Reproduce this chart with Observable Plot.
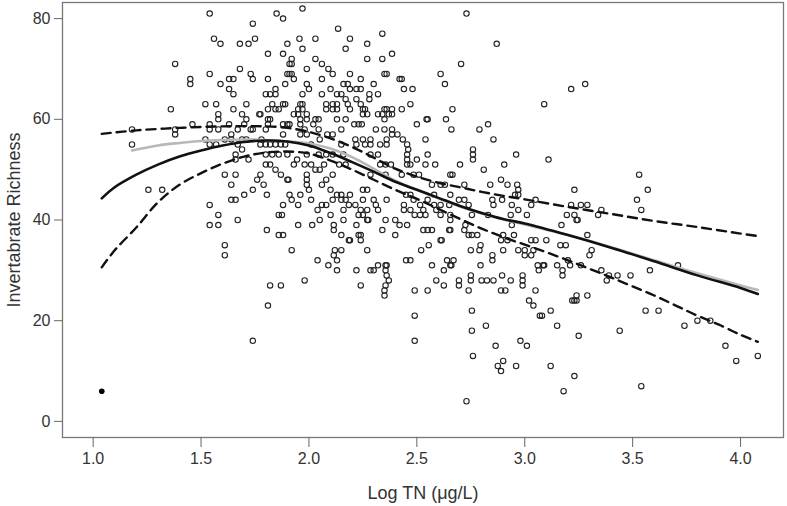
<!DOCTYPE html>
<html><head><meta charset="utf-8">
<script src="https://cdn.jsdelivr.net/npm/d3@7"></script>
<script src="https://cdn.jsdelivr.net/npm/@observablehq/plot@0.6"></script>
<style>body{margin:0;background:#fff}</style>
</head><body><div id="chart"></div>
<script>
const xTicks = [1.0, 1.5, 2.0, 2.5, 3.0, 3.5, 4.0];
const yTicks = [0, 20, 40, 60, 80];
const xTitle = "Log TN (μg/L)";
const yTitle = "Invertabrate Richness";

// [Log TN, richness] for each site (open circles)
const sites = [
[1.54,81],[1.74,79],[1.56,76],[1.59,75],[1.68,75],[1.72,75],[1.75,76],[1.38,71],[1.54,69],[1.68,70],[1.73,69],[1.74,68],[1.45,68],[1.45,67],[1.59,67],[1.63,68],[1.65,68],[1.63,66],[1.65,65],[1.36,62],[1.52,63],[1.57,63],[1.71,63],[1.65,62],[1.58,61],[1.58,60],[1.69,61],[1.77,61],[1.71,60],[1.18,58],[1.38,58],[1.38,57],[1.46,59],[1.54,58],[1.54,59],[1.58,58],[1.63,59],[1.67,58],[1.70,59],[1.73,58],[1.74,58],[1.18,55],[1.52,56],[1.54,55],[1.57,55],[1.61,56],[1.64,57],[1.64,56],[1.69,56],[1.67,55],[1.71,56],[1.78,56],
[1.97,82],[1.85,81],[1.88,80],[2.135,78],[1.956,76],[2.03,76],[2.19,76],[2.34,77],[1.90,75],[1.97,74],[2.27,75],[1.81,73],[1.88,73],[2.17,74],[2.385,73],[1.92,72],[1.91,71],[1.92,71],[2.03,72],[2.06,71],[2.27,72],[2.34,72],[1.99,70],[2.09,70],[2.11,69],[1.90,69],[1.92,69],[1.91,69],[1.81,68],[1.89,67],[1.93,68],[2.06,68],[2.19,69],[2.24,68],[2.35,69],[2.36,69],[2.42,68],[1.845,66],[1.80,65],[1.82,65],[1.845,65],[1.99,67],[2.00,66],[1.97,65],[2.10,66],[2.16,67],[2.18,67],[2.19,66],[2.13,65],[2.15,65],[2.22,66],[2.24,66],[2.30,67],[2.06,65],[2.28,65],[2.28,64],[2.32,65],[2.17,64],[2.22,64],[1.83,63],[1.88,63],[1.89,63],[1.96,63],[1.97,63],[2.08,63],[2.11,63],[2.13,63],[2.18,63],[2.24,63],[1.81,62],[1.845,62],[1.86,62],[1.95,62],[1.97,62],[2.08,62],[2.11,62],[2.13,62],[2.19,62],[2.25,62],[2.26,62],[2.36,62],[2.385,62],[1.775,61],[1.81,60],[1.82,60],[1.93,61],[1.95,61],[1.99,61],[1.96,60],[1.99,60],[2.03,60],[2.045,60],[2.13,60],[2.17,60],[2.25,61],[2.27,61],[2.32,61],[2.34,61],[2.35,62],[2.37,61],[2.385,61],[2.35,60],[1.88,59],[1.90,59],[1.91,59],[1.80,58],[1.81,59],[1.96,59],[1.98,58],[2.02,59],[2.045,58],[2.21,59],[2.23,59],[2.245,59],[2.31,58],[2.35,58],[2.385,58],[2.41,57],[2.15,58],[2.085,57],[2.11,57],[1.88,57],[1.96,57],[1.99,57],[2.05,56],[2.215,56],[2.25,56],[2.285,56],[2.36,56],[2.385,57],[1.775,55],[1.80,55],[1.82,55],[1.845,55],[1.87,55],[1.89,55],[2.01,55],[2.15,55],[2.22,55],[2.26,55],[2.285,55],[2.33,55],[2.36,55],
[2.73,81],[2.87,75],[2.705,71],[2.61,69],[2.63,67],[2.43,68],[2.44,66],[2.48,66],[2.47,63],[2.43,62],[2.665,62],[2.545,60],[2.55,60],[2.50,59],[2.635,60],[2.66,58],[2.79,58],[2.83,59],[2.435,56],[2.455,55],[2.46,54],[2.54,56],[2.855,56],[2.76,54],
[3.09,63],[3.215,66],[3.28,67],
[1.256,46],[1.32,46],[1.61,49],[1.66,49],[1.66,53],[1.66,52],[1.69,54],[1.72,52],[1.64,47],[1.74,46],[1.76,48],[1.775,49],[1.70,45],[1.64,44],[1.66,44],[1.54,43],[1.58,41],[1.54,39],[1.58,39],[1.67,40],[1.61,35],[1.61,33],
[1.80,53],[1.83,53],[1.86,53],[1.90,53],[1.99,53],[2.045,53],[2.08,53],[2.11,53],[2.16,53],[2.285,53],[2.32,53],
[1.80,51],[1.82,51],[1.845,50],[1.93,51],[1.945,52],[1.98,51],[2.01,51],[2.03,50],[2.05,50],[2.07,51],[2.14,51],[2.17,51],[2.11,49],[2.33,51],[2.355,51],[2.38,51],[2.285,49],[2.355,49],[1.87,49],[1.90,48],[1.905,48],[1.99,49],[1.99,48],[1.99,47],[1.79,47],[2.06,47],[2.08,48],[2.10,46],[2.00,46],[1.805,45],[1.91,45],[1.92,44],[1.96,45],[2.01,44],[1.88,43],[1.95,43],[2.06,43],[2.08,43],[2.04,42],[2.13,45],[2.15,45],[2.15,44],[2.17,44],[2.19,45],[2.25,46],[2.27,46],[2.11,44],[2.185,43],[2.215,43],[2.25,44],[2.30,44],[2.31,43],[2.36,44],[2.16,42],[2.24,42],[2.27,42],[2.32,42],[1.86,41],[1.875,41],[2.10,41],[2.23,41],[2.25,41],[2.27,40],[2.275,40],[2.355,40],[1.95,39],[2.015,39],[2.115,39],[2.05,40],[2.16,40],[2.22,39],[2.40,40],[1.805,38],[2.115,38],[2.15,37],[2.34,38],[1.86,37],[1.88,37],[2.185,36],[2.19,36],[2.23,37],[2.24,37],[2.24,36],[2.40,37],[1.92,34],[2.12,34],[2.15,34],[2.27,34],[2.04,32],[2.115,33],[2.13,32],[2.09,31],[2.13,30],[2.22,30],[2.285,30],[2.30,30],[2.32,31],[2.355,31],[2.36,31],[2.355,30],[1.98,28],[2.36,29],[2.37,28],[1.82,27],[1.87,27],[2.24,27],[2.355,27],
[2.455,53],[2.50,52],[2.55,53],[2.455,52],[2.455,51],[2.47,51],[2.54,51],[2.585,51],[2.70,51],[2.76,53],[2.76,52],[2.81,50],[2.905,51],[2.96,53],[2.43,49],[2.485,49],[2.51,49],[2.655,49],[2.665,49],[2.57,47],[2.61,47],[2.63,47],[2.72,47],[2.84,47],[2.89,48],[2.92,47],[2.965,47],[2.97,46],[2.955,45],[2.97,45],[2.45,45],[2.47,45],[2.58,45],[2.655,45],[2.44,43],[2.485,44],[2.47,42],[2.515,43],[2.53,42],[2.49,41],[2.515,41],[2.54,41],[2.44,42],[2.55,44],[2.58,43],[2.61,43],[2.59,42],[2.61,41],[2.65,43],[2.655,41],[2.655,40],[2.74,43],[2.72,44],[2.695,44],[2.755,41],[2.725,39],[2.72,38],[2.74,37],[2.755,37],[2.78,37],[2.85,44],[2.895,44],[2.855,43],[2.83,41],[2.94,43],[2.97,42],[2.935,41],[3.03,43],[3.05,44],[3.01,41],[2.94,39],[2.92,36],[2.89,36],[2.90,37],[2.95,37],[2.455,39],[2.42,39],[2.53,38],[2.55,38],[2.57,38],[2.65,38],[2.655,38],[2.61,36],[2.615,36],[2.795,35],[2.79,34],[2.555,35],[2.52,34],[2.75,34],[2.85,33],[2.85,32],[2.90,34],[2.97,34],[3.00,34],[3.03,36],[3.05,36],[3.04,34],[3.00,33],[3.03,33],[2.45,32],[2.47,32],[2.57,31],[2.64,32],[2.67,32],[2.655,31],[2.66,31],[2.625,30],[2.75,29],[2.795,31],[2.895,29],[2.99,29],[2.99,28],[3.06,31],[3.065,30],[2.59,28],[2.695,28],[2.695,27],[2.75,28],[2.80,28],[2.825,28],[2.855,28],[2.625,27],[2.935,28],[2.49,26],[2.55,26],[2.99,27],
[3.11,52],[3.53,49],[3.57,46],[3.23,46],[3.52,44],[3.54,42],[3.215,43],[3.26,43],[3.29,43],[3.355,42],[3.34,41],[3.195,41],[3.23,41],[3.24,40],[3.245,40],[3.17,39],[3.29,37],[3.10,36],[3.165,35],[3.19,35],[3.31,34],[3.30,33],[3.20,32],[3.21,31],[3.09,31],[3.085,31],[3.15,31],[3.26,31],[3.175,30],[3.175,29],[3.355,30],[3.39,29],[3.38,28],[3.43,29],[3.49,29],[3.58,30],[3.71,31],
[1.74,16],[1.81,23],[2.35,26],[2.35,25],
[2.49,21],[2.49,16],[2.74,26],[2.755,22],[2.755,18],[2.82,19],[2.76,13],[2.73,4],[2.89,26],[2.91,26],[2.865,15],[2.875,11],[2.89,10],[2.90,12],[2.96,11],[2.98,16],[3.01,15],[3.02,24],[3.04,23],[3.05,26],[3.07,21],
[3.24,25],[3.29,25],[3.22,24],[3.23,24],[3.24,24],[3.08,21],[3.12,22],[3.15,19],[3.25,17],[3.12,11],[3.23,9],[3.18,6],[3.44,18],[3.54,7],[3.56,22],[3.62,22],[3.74,19],[3.80,20],[3.86,20],[3.93,15],[3.98,12],[4.08,13]
];
// filled point
const outlier = [[1.04, 6]];

// fitted curve (solid black)
const fitX = [1.04,1.1,1.2,1.3,1.4,1.5,1.6,1.7,1.8,1.9,2.0,2.1,2.2,2.3,2.4,2.5,2.6,2.7,2.8,2.9,3.0,3.2,3.4,3.6,3.8,4.0,4.08];
const fitY = [44.3,46.5,49,51,52.6,53.8,54.8,55.5,55.8,55.6,54.8,53.3,51.5,49.6,47.6,46,44.4,42.8,41.4,40.2,39.3,37,34.5,31.8,29,26.5,25.3];
// second smoother (grey)
const smoothX = [1.18,1.3,1.4,1.5,1.6,1.7,1.8,1.9,2.0,2.1,2.2,2.3,2.4,2.5,2.6,2.7,2.8,2.9,3.0,3.2,3.4,3.6,3.8,4.0,4.08];
const smoothY = [53.8,54.8,55.3,55.7,55.9,56,55.9,55.6,55.2,54.2,52.5,50.2,47.8,46,44.3,42.7,41.3,40.1,39.1,37,34.6,32,29.4,27,26.1];
// upper confidence band (dashed)
const upperX = [1.04,1.2,1.4,1.6,1.8,1.9,2.0,2.1,2.2,2.3,2.4,2.5,2.6,2.7,2.8,2.9,3.0,3.2,3.4,3.6,3.8,4.0,4.08];
const upperY = [57.1,57.8,58.3,58.6,58.6,58.3,57.5,56.2,54.5,52.4,50.2,48.6,47.4,46.5,45.6,44.8,44.1,42.6,41.2,39.8,38.6,37.3,36.8];
// lower confidence band (dashed)
const lowerX = [1.04,1.1,1.2,1.3,1.4,1.5,1.6,1.7,1.8,1.9,2.0,2.1,2.2,2.3,2.4,2.5,2.6,2.7,2.8,2.9,3.0,3.1,3.2,3.3,3.4,3.5,3.6,3.7,3.8,3.9,4.0,4.08];
const lowerY = [30.6,34,38.5,43.5,47,49.3,51.2,52.6,53.4,53.6,53.2,51.8,50,48,46,44.2,42.2,40.2,38.3,36.6,35.1,33.6,32,30.3,28.6,26.8,25,23,21,19.2,17.2,15.8];

const rows = (xs, ys) => xs.map((x, i) => ({x, y: ys[i]}));

const chart = Plot.plot({
  width: 787, height: 506,
  marginTop: 2, marginBottom: 69, marginLeft: 62, marginRight: 4,
  style: {fontFamily: "'Liberation Sans', Arial, sans-serif", fontSize: "16px", color: "#333", background: "#fff"},
  x: {domain: [0.858, 4.199]},
  y: {domain: [-3.2, 83.2]},
  marks: [
    Plot.frame({stroke: "#777", strokeWidth: 1.3}),
    Plot.axisX({ticks: xTicks, tickFormat: d => d.toFixed(1), tickSize: 10, tickPadding: 5, stroke: "#666", fontSize: 16, label: null}),
    Plot.axisX({ticks: [], label: xTitle, labelAnchor: "center", labelArrow: "none", labelOffset: 61, fontSize: 18}),
    Plot.axisY({ticks: yTicks, tickSize: 8, tickPadding: 4, stroke: "#666", fontSize: 16, label: null}),
    Plot.axisY({ticks: [], label: yTitle, labelAnchor: "center", labelArrow: "none", labelOffset: 55, fontSize: 18}),
    Plot.dot(sites, {x: d => d[0], y: d => d[1], r: 2.7, stroke: "#222", strokeWidth: 1.1, fill: "none"}),
    Plot.dot(outlier, {x: d => d[0], y: d => d[1], r: 2.8, fill: "#000", stroke: "none"}),
    Plot.line(rows(smoothX, smoothY), {x: "x", y: "y", stroke: "#b8b8b8", strokeWidth: 2.6, curve: "catmull-rom"}),
    Plot.line(rows(fitX, fitY), {x: "x", y: "y", stroke: "#111", strokeWidth: 2.6, curve: "catmull-rom"}),
    Plot.line(rows(upperX, upperY), {x: "x", y: "y", stroke: "#111", strokeWidth: 2.4, strokeDasharray: "9,6", curve: "catmull-rom"}),
    Plot.line(rows(lowerX, lowerY), {x: "x", y: "y", stroke: "#111", strokeWidth: 2.4, strokeDasharray: "9,6", curve: "catmull-rom"})
  ]
});
document.getElementById("chart").append(chart);
</script>
</body></html>
